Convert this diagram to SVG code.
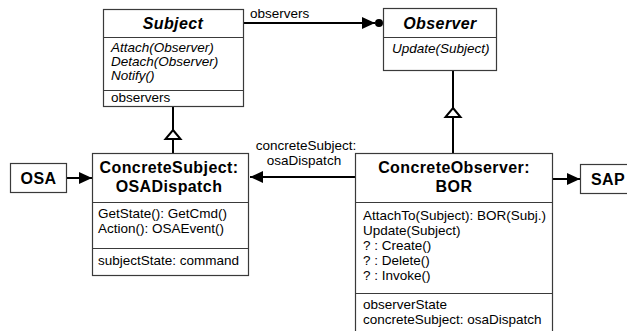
<svg xmlns="http://www.w3.org/2000/svg" width="627" height="331" viewBox="0 0 627 331">
  <style>
    .box { fill: #fff; stroke: #3a3a3a; stroke-width: 1.2; }
    .sep { stroke: #3a3a3a; stroke-width: 1.2; }
    .wire { stroke: #000; stroke-width: 2; fill: none; }
    .tri { fill: #fff; stroke: #000; stroke-width: 2; }
    text { font-family: "Liberation Sans", Arial, sans-serif; fill: #000; }
    .title { font-size: 16px; font-weight: bold; letter-spacing: 0.4px; text-anchor: middle; }
    .abstract { font-style: italic; }
    .op { font-size: 13.5px; }
    .ops-i { font-size: 13.5px; font-style: italic; }
    .lbl { font-size: 13.5px; }
  </style>
  <defs>
    <marker id="head" markerUnits="userSpaceOnUse" viewBox="0 0 13 12" refX="13" refY="6" markerWidth="13" markerHeight="12" orient="auto">
      <path d="M0,0 L13,6 L0,12 z" fill="#000"/>
    </marker>
  </defs>

  <!-- connectors -->
  <g id="connectors">
    <!-- Subject -> Observer association (observers) -->
    <line class="wire" x1="243" y1="23" x2="375" y2="23" marker-end="url(#head)"/>
    <circle cx="379" cy="23" r="4" fill="#000"/>
    <text class="lbl" x="250" y="18">observers</text>

    <!-- ConcreteSubject generalizes Subject -->
    <line class="wire" x1="173" y1="106" x2="173" y2="130"/>
    <polygon class="tri" points="173,130 180.5,139 165.5,139"/>
    <line class="wire" x1="173" y1="139" x2="173" y2="153"/>

    <!-- ConcreteObserver generalizes Observer -->
    <line class="wire" x1="453" y1="71" x2="453" y2="108"/>
    <polygon class="tri" points="453,108 460.5,117 445.5,117"/>
    <line class="wire" x1="453" y1="117" x2="453" y2="153"/>

    <!-- OSA -> ConcreteSubject -->
    <line class="wire" x1="67" y1="178" x2="92" y2="178" marker-end="url(#head)"/>

    <!-- ConcreteObserver -> ConcreteSubject (concreteSubject: osaDispatch) -->
    <line class="wire" x1="355" y1="177" x2="250" y2="177" marker-end="url(#head)"/>
    <text class="lbl" x="306" y="150" text-anchor="middle">concreteSubject:</text>
    <text class="lbl" x="304" y="165" text-anchor="middle">osaDispatch</text>

    <!-- ConcreteObserver -> SAP -->
    <line class="wire" x1="553" y1="179" x2="580" y2="179" marker-end="url(#head)"/>
  </g>

  <!-- Subject -->
  <g id="subject">
    <rect class="box" x="103.5" y="9.5" width="140" height="97"/>
    <line class="sep" x1="103.5" y1="37.5" x2="243.5" y2="37.5"/>
    <line class="sep" x1="103.5" y1="90.5" x2="243.5" y2="90.5"/>
    <text class="title abstract" x="173" y="29">Subject</text>
    <text class="ops-i" x="111" y="52">Attach(Observer)</text>
    <text class="ops-i" x="111" y="66">Detach(Observer)</text>
    <text class="ops-i" x="111" y="80">Notify()</text>
    <text class="op" x="111" y="102">observers</text>
  </g>

  <!-- Observer -->
  <g id="observer">
    <rect class="box" x="383.5" y="8.5" width="113" height="62"/>
    <line class="sep" x1="383.5" y1="37.5" x2="496.5" y2="37.5"/>
    <text class="title abstract" x="440" y="29">Observer</text>
    <text class="ops-i" x="392" y="53">Update(Subject)</text>
  </g>

  <!-- OSA -->
  <g id="osa">
    <rect class="box" x="10.5" y="163.5" width="56" height="29"/>
    <text class="title" x="38.5" y="184">OSA</text>
  </g>

  <!-- ConcreteSubject: OSADispatch -->
  <g id="concrete-subject">
    <rect class="box" x="92.5" y="153.5" width="156" height="122"/>
    <line class="sep" x1="92.5" y1="202.5" x2="248.5" y2="202.5"/>
    <line class="sep" x1="92.5" y1="248.5" x2="248.5" y2="248.5"/>
    <text class="title" x="169" y="173">ConcreteSubject:</text>
    <text class="title" x="169" y="192">OSADispatch</text>
    <text class="op" x="98" y="218">GetState(): GetCmd()</text>
    <text class="op" x="98" y="233">Action(): OSAEvent()</text>
    <text class="op" x="98" y="265">subjectState: command</text>
  </g>

  <!-- ConcreteObserver: BOR -->
  <g id="concrete-observer">
    <rect class="box" x="355.5" y="153.5" width="197" height="182"/>
    <line class="sep" x1="355.5" y1="202.5" x2="552.5" y2="202.5"/>
    <line class="sep" x1="355.5" y1="293.5" x2="552.5" y2="293.5"/>
    <text class="title" x="454" y="173">ConcreteObserver:</text>
    <text class="title" x="454" y="192">BOR</text>
    <text class="op" x="363" y="220">AttachTo(Subject): BOR(Subj.)</text>
    <text class="op" x="363" y="235">Update(Subject)</text>
    <text class="op" x="363" y="250">? : Create()</text>
    <text class="op" x="363" y="265">? : Delete()</text>
    <text class="op" x="363" y="280">? : Invoke()</text>
    <text class="op" x="363" y="309">observerState</text>
    <text class="op" x="363" y="324">concreteSubject: osaDispatch</text>
  </g>

  <!-- SAP -->
  <g id="sap">
    <rect class="box" x="580.5" y="164.5" width="60" height="29"/>
    <text class="title" x="608" y="185">SAP</text>
  </g>
</svg>
